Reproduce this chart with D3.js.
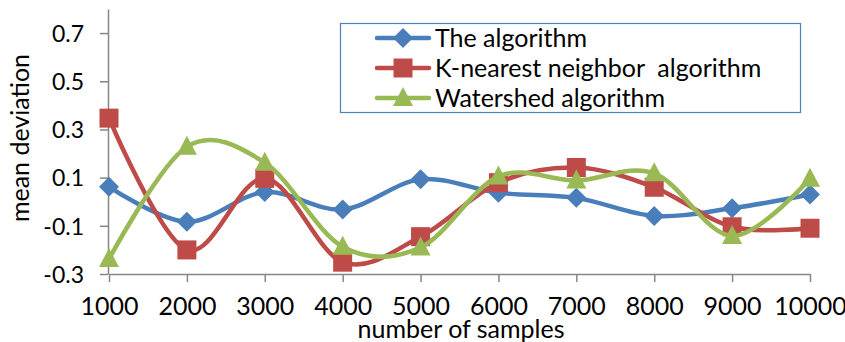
<!DOCTYPE html>
<html>
<head>
<meta charset="utf-8">
<script src="https://cdn.jsdelivr.net/npm/d3@7/dist/d3.min.js"></script>
<style>
  html, body { margin: 0; padding: 0; background: #fff; }
  svg { display: block; }
  text { font-family: Lato, "Open Sans", sans-serif; fill: #000; white-space: pre; }
</style>
</head>
<body>
<svg id="chart" width="845" height="342"></svg>
<script>
// Sample sizes on the horizontal axis
const categories = ["1000", "2000", "3000", "4000", "5000", "6000", "7000", "8000", "9000", "10000"];

// Mean deviation of each method
const theAlgorithm = [0.062, -0.083, 0.040, -0.032, 0.093, 0.037, 0.016, -0.059, -0.027, 0.030];
const knnAlgorithm = [0.347, -0.200, 0.097, -0.251, -0.145, 0.079, 0.142, 0.060, -0.104, -0.110];
const watershed    = [-0.238, 0.228, 0.162, -0.187, -0.190, 0.105, 0.088, 0.118, -0.142, 0.095];

const seriesNames = ["The algorithm", "K-nearest neighbor  algorithm", "Watershed algorithm"];
const yTicks = [-0.3, -0.1, 0.1, 0.3, 0.5, 0.7];

const series = [
  { name: seriesNames[0], values: theAlgorithm, color: "#4A7EBB", marker: "diamond" },
  { name: seriesNames[1], values: knnAlgorithm, color: "#BE4B48", marker: "square" },
  { name: seriesNames[2], values: watershed,    color: "#98B954", marker: "triangle" }
];

const svg = d3.select("#chart");
const axisColor = "#868686";

const x = d3.scalePoint().domain(categories).range([109, 810]);
const y = d3.scaleLinear().domain([-0.3, 0.8]).range([274, 9]);

// Axes
const xAxis = d3.axisBottom(x).tickSize(8).tickSizeOuter(0).tickPadding(15);
const gx = svg.append("g").attr("transform", `translate(0,${y(-0.3)})`).call(xAxis);
gx.select(".domain").attr("stroke", axisColor).attr("stroke-width", 1.5);
gx.selectAll(".tick line").attr("stroke", axisColor).attr("stroke-width", 1.5);
gx.selectAll(".tick text").attr("font-size", 25).style("font-family", "Lato");

const yAxis = d3.axisLeft(y).tickValues(yTicks).tickSize(8).tickSizeOuter(0).tickPadding(16)
  .tickFormat(d => d3.format(".1f")(d).replace("−", "-"));
const gy = svg.append("g").attr("transform", `translate(${x(categories[0]) - 1},0)`).call(yAxis);
gy.select(".domain").attr("stroke", axisColor).attr("stroke-width", 1.5);
gy.selectAll(".tick line").attr("stroke", axisColor).attr("stroke-width", 1.5);
gy.selectAll(".tick text").attr("font-size", 23).attr("dy", "0.36em").style("font-family", "Lato");

// Axis titles
svg.append("text")
  .attr("x", 461).attr("y", 338)
  .attr("text-anchor", "middle").attr("font-size", 25)
  .text("number of samples");
svg.append("text")
  .attr("transform", "translate(29,138) rotate(-90)")
  .attr("text-anchor", "middle").attr("font-size", 25)
  .text("mean deviation");

// Marker shapes
function markerPath(kind) {
  if (kind === "diamond") return "M0,-10L10,0L0,10L-10,0Z";
  if (kind === "square") return "M-9.5,-9.5H9.5V9.5H-9.5Z";
  return "M0,-11L10,8L-10,8Z";
}

const line = d3.line()
  .x((d, i) => x(categories[i]))
  .y(d => y(d))
  .curve(d3.curveCatmullRom.alpha(0));

series.forEach(s => {
  const g = svg.append("g");
  g.append("path")
    .attr("d", line(s.values))
    .attr("fill", "none")
    .attr("stroke", s.color)
    .attr("stroke-width", 4.5)
    .attr("stroke-linejoin", "round")
    .attr("stroke-linecap", "round");
  g.selectAll("path.mk")
    .data(s.values)
    .join("path")
    .attr("class", "mk")
    .attr("transform", (d, i) => `translate(${x(categories[i])},${y(d)})`)
    .attr("d", markerPath(s.marker))
    .attr("fill", s.color);
});

// Legend
const legend = svg.append("g");
legend.append("rect")
  .attr("x", 340.5).attr("y", 23.5).attr("width", 460).attr("height", 89)
  .attr("fill", "#fff").attr("stroke", "#4F81BD").attr("stroke-width", 1.2);
series.forEach((s, i) => {
  const base = 46.5 + i * 30;
  const cy = base - 8.5;
  legend.append("line")
    .attr("x1", 377).attr("x2", 429).attr("y1", cy).attr("y2", cy)
    .attr("stroke", s.color).attr("stroke-width", 4.5).attr("stroke-linecap", "round");
  legend.append("path")
    .attr("transform", `translate(403,${cy})`)
    .attr("d", markerPath(s.marker))
    .attr("fill", s.color);
  legend.append("text")
    .attr("x", 435).attr("y", base)
    .attr("font-size", 25)
    .text(s.name);
});
</script>
</body>
</html>
